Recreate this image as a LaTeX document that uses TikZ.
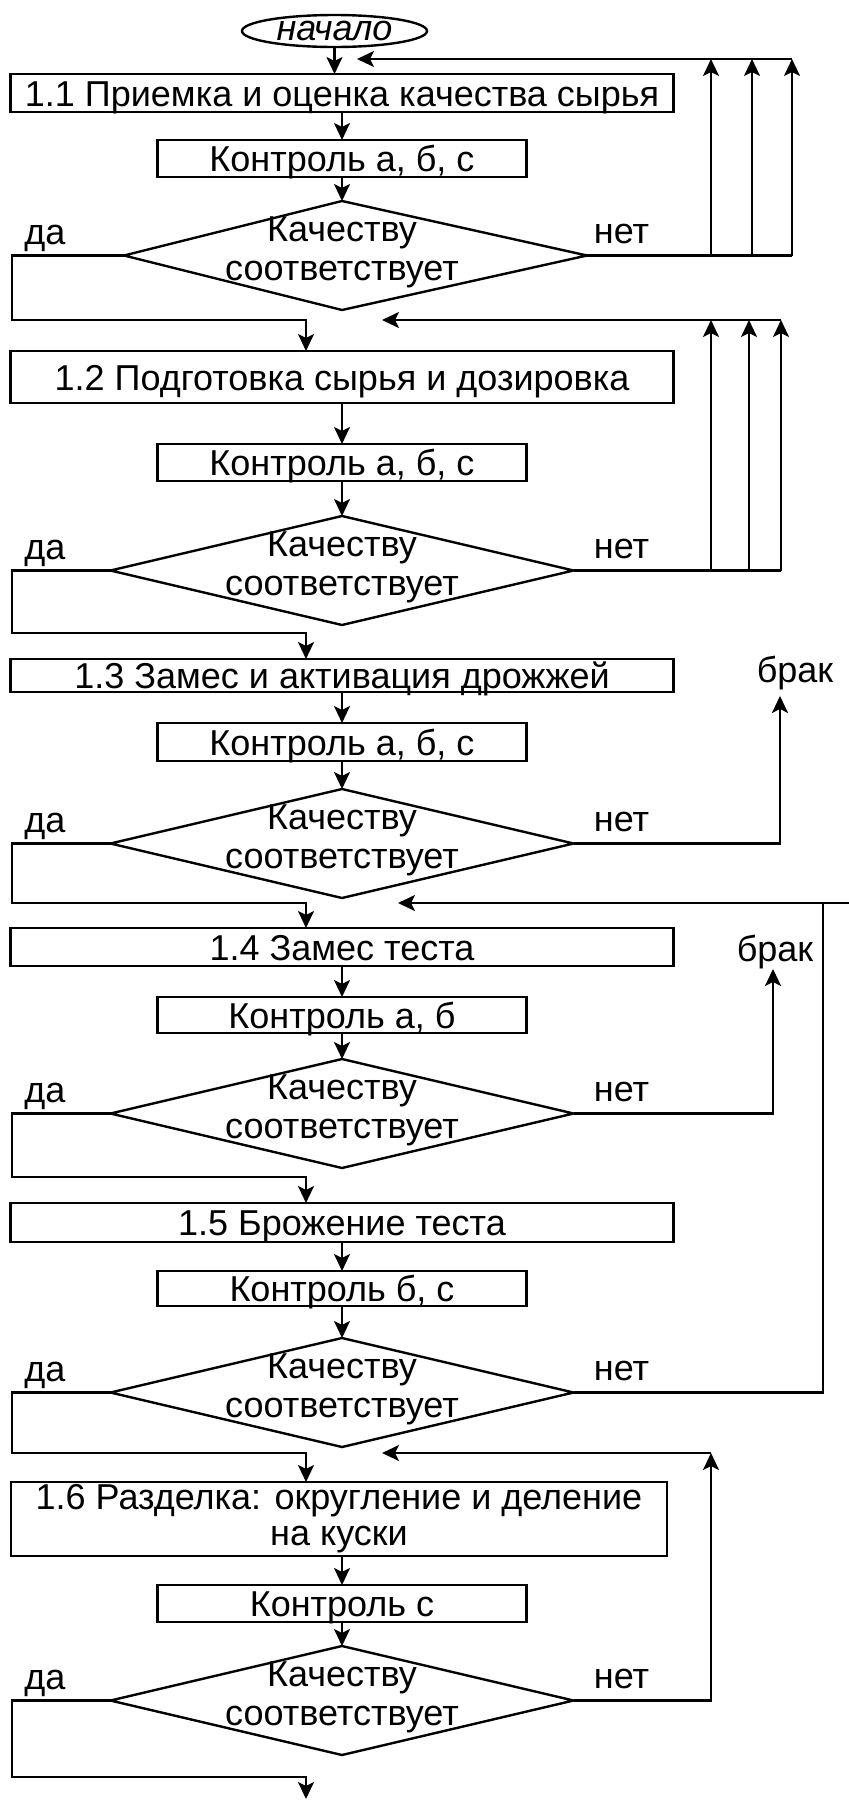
\documentclass[tikz,border=0pt]{standalone}
\usepackage{fontspec}
\setmainfont{Liberation Sans}
\usetikzlibrary{arrows.meta,positioning,shapes.geometric,calc}

\begin{document}
\begin{tikzpicture}[>={Stealth[length=8.5pt,width=8pt,inset=2pt]}, line width=1.2pt,
    font=\fontsize{18pt}{19.5pt}\selectfont,
    box/.style={rectangle, draw, inner sep=0pt, outer sep=0pt},
    proc/.style={box, minimum width=331.5pt, text height=13pt, text depth=0pt},
    ctrl/.style={box, minimum width=184.5pt, minimum height=18.5pt, text height=13pt, text depth=0pt},
    decision/.style={diamond, draw, minimum width=231.5pt, minimum height=54.5pt, inner sep=0pt, outer sep=0pt},
    dtext/.style={align=center, inner sep=0pt},
    term/.style={ellipse, draw, minimum width=92.5pt, minimum height=16pt, inner sep=0pt, outer sep=0pt, font=\fontsize{18pt}{19.5pt}\selectfont\itshape},
    lbl/.style={inner sep=0pt, outer sep=0pt}]
    \useasboundingbox (0,0) rectangle (424.5pt,-900pt);

    % Main column
    \node[proc, minimum height=19pt] (b11) at (171pt,-46.5pt) {1.1 Приемка и оценка качества сырья};
    \node[term, above=13.5pt of b11, xshift=-3.75pt] (start) {начало};
    \node[ctrl, below=14pt of b11] (c1) {Контроль а, б, с};
    \node[decision, draw=none, below=12pt of c1] (d1) {};
    % the first diamond leans a little to the right
    \coordinate (d1w) at ([xshift=6.75pt]d1.west);
    \coordinate (d1e) at ([xshift=6.75pt]d1.east);
    \draw (d1.north) -- (d1w) -- (d1.south) -- (d1e) -- cycle;

    \node[proc, minimum height=26pt, below=20.5pt of d1] (b12) {1.2 Подготовка сырья и дозировка};
    \node[ctrl, below=20.5pt of b12] (c2) {Контроль а, б, с};
    \node[decision, below=17.5pt of c2] (d2) {};

    \node[proc, minimum height=16.5pt, below=17pt of d2] (b13) {1.3 Замес и активация дрожжей};
    \node[ctrl, minimum height=19pt, below=15.5pt of b13] (c3) {Контроль а, б, с};
    \node[decision, below=14pt of c3] (d3) {};

    \node[proc, minimum height=19pt, below=15pt of d3] (b14) {1.4 Замес теста};
    \node[ctrl, minimum height=18pt, below=15.5pt of b14] (c4) {Контроль а, б};
    \node[decision, below=13pt of c4] (d4) {};

    \node[proc, minimum height=19.5pt, below=17.5pt of d4] (b15) {1.5 Брожение теста};
    \node[ctrl, minimum height=17.5pt, below=14.5pt of b15] (c5) {Контроль б, с};
    \node[decision, below=16pt of c5] (d5) {};

    \node[box, minimum width=328pt, minimum height=37pt, align=center, below=17.5pt of d5, xshift=-1.5pt] (b16) {1.6 Разделка: округление и деление\\[-1.5pt]на куски};
    \node[ctrl, below=14.5pt of b16, xshift=1.5pt] (c6) {Контроль с};
    \node[decision, below=12pt of c6] (d6) {};

    % Diamond texts and answers
    \foreach \d in {d1,d2,d3,d4,d5,d6} {
        \node[dtext, yshift=1.75pt] (t\d) at (\d) {Качеству\\соответствует};
        \node[lbl, anchor=base] (y\d) at ($(\d.west)+(-32.75pt,5.3pt)$) {да};
        \node[lbl, anchor=base] (n\d) at ($(\d.east)+(24pt,6pt)$) {нет};
    }

    % Straight arrows down the column
    \draw[->] (start) -- (start |- b11.north);
    \draw[->] (b11) -- (c1);
    \draw[->] (c1) -- (d1);
    \draw[->] (b12) -- (c2);
    \draw[->] (c2) -- (d2);
    \draw[->] (b13) -- (c3);
    \draw[->] (c3) -- (d3);
    \draw[->] (b14) -- (c4);
    \draw[->] (c4) -- (d4);
    \draw[->] (b15) -- (c5);
    \draw[->] (c5) -- (d5);
    \draw[->] (b16.south -| c6) -- (c6);
    \draw[->] (c6) -- (d6);

    % "yes" branches on the left
    \coordinate (lft) at (6pt,0);
    \coordinate (ycol) at (153pt,0);
    \foreach \d/\b/\h in {d1w/b12/15.5, d2.west/b13/13, d3.west/b14/12.5, d4.west/b15/13, d5.west/b16/14.5} {
        \coordinate (j\b) at ($(\b.north -| ycol)+(0,\h pt)$);
        \draw[->] (\d) -| (lft |- j\b) -- (j\b) -- (j\b |- \b.north);
    }
    \coordinate (jend) at ($(d6.south -| ycol)+(0,-11pt)$);
    \coordinate (fin) at (153pt,-899.5pt);
    \draw[->] (d6.west) -| (lft |- jend) -- (jend) -- (fin);

    % "no" branches on the right
    \coordinate (na) at (355.5pt,0);
    \coordinate (nb) at (376pt,0);
    \coordinate (nc) at (396pt,0);
    \coordinate (r1) at ($(b11.north)+(7.5pt,7.5pt)$);
    \draw (d1e) -- (d1e -| nc);
    \foreach \c in {na,nb,nc} \draw[->] (d1e -| \c) -- (r1 -| \c);
    \draw[->] (r1 -| nc) -- (r1);

    \coordinate (mb) at (374.5pt,0);
    \coordinate (mc) at (390.5pt,0);
    \draw (d2.east) -- (d2.east -| mc);
    \foreach \c in {na,mb,mc} \draw[->] (d2.east -| \c) -- (jb12 -| \c);
    \draw[->] (jb12 -| mc) -- ($(jb12)+(38pt,0)$);

    \node[lbl] (br1) at (397.5pt,-336.5pt) {брак};
    \draw[->] (d3.east) -| ([xshift=-7.5pt,yshift=-3pt]br1.south);
    \node[lbl] (br2) at (387.5pt,-476pt) {брак};
    \draw[->] (d4.east) -| ([xshift=-1pt]br2.south);

    \coordinate (rx) at (411.5pt,0);
    \coordinate (edge) at (424.5pt,0);
    \draw (d5.east) -| (rx |- jb14);
    \draw[->] (edge |- jb14) -- ($(jb14)+(46pt,0)$);

    \draw[->] (d6.east) -| (na |- jb16);
    \draw[->] (na |- jb16) -- ($(jb16)+(38pt,0)$);
\end{tikzpicture}
\end{document}
